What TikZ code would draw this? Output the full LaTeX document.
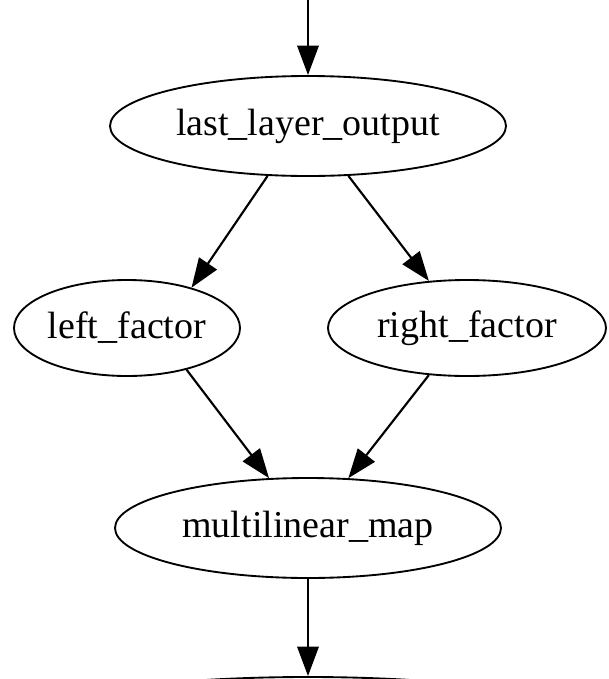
\documentclass[tikz,border=0pt]{standalone}
\usepackage{fontspec}
\setmainfont{Liberation Serif}
\usetikzlibrary{shapes.geometric,arrows.meta}
\begin{document}
\begin{tikzpicture}[x=0.75pt,y=-0.75pt,
  nd/.style={draw,ellipse,line width=1.4pt,inner sep=0pt,font=\fontsize{28.5}{32}\selectfont},
  edge/.style={line width=1.6pt,-{Triangle[length=22pt,width=16pt]}}]
\useasboundingbox (0,0) rectangle (608,679);
\begin{scope}
\clip (0,0) rectangle (608,679);
\node[nd,minimum width=396*0.75pt,minimum height=100*0.75pt] (llo) at (308,126) {last\_layer\_output};
\node[nd,minimum width=226*0.75pt,minimum height=96*0.75pt] (lf) at (127,328) {left\_factor};
\node[nd,minimum width=278*0.75pt,minimum height=96*0.75pt] (rf) at (467,328) {right\_factor};
\node[nd,minimum width=386*0.75pt,minimum height=100*0.75pt] (mm) at (308,528) {multilinear\_map};
\node[nd,minimum width=600*0.75pt,minimum height=100*0.75pt] (out) at (308,727) {};
\coordinate (top) at (308,0);
\draw[edge] (top) -- (llo.north);
\draw[edge] (llo.231) -- (lf.32);
\draw[edge] (llo.309) -- (rf.129);
\draw[edge] (lf.325) -- (mm.128);
\draw[edge] (rf.231) -- (mm.51);
\draw[edge] (mm.south) -- (out.north);
\end{scope}
\end{tikzpicture}
\end{document}
